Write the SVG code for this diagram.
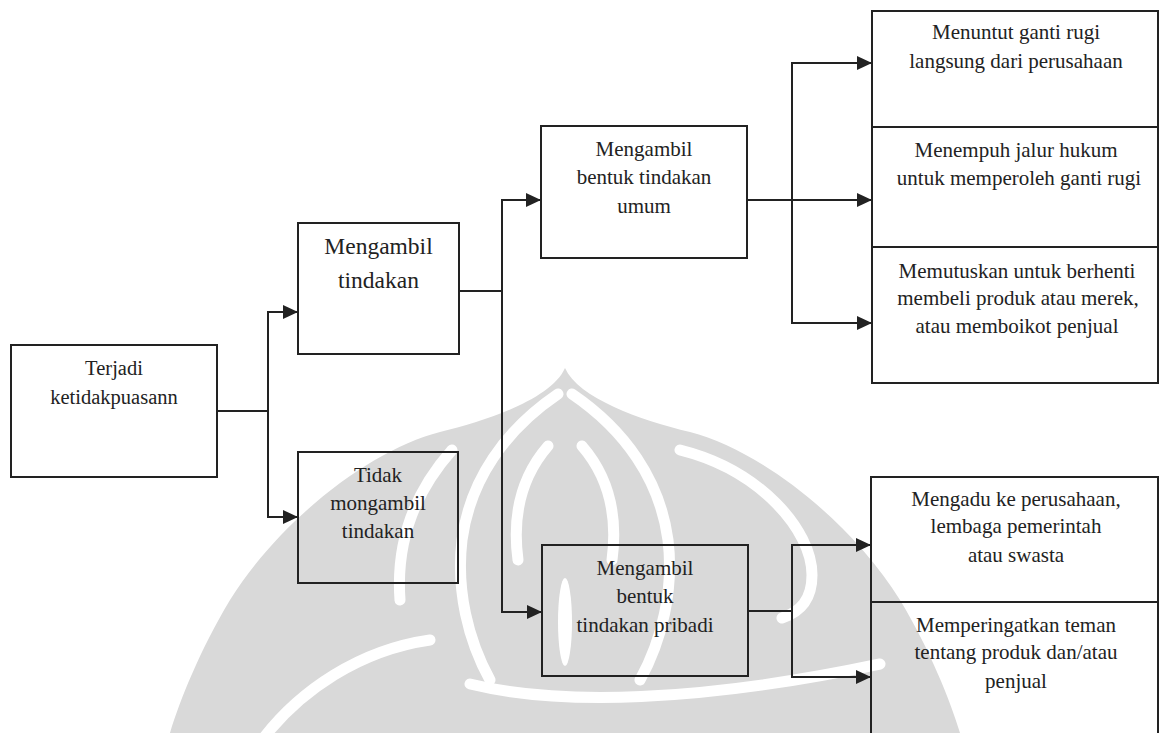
<svg xmlns="http://www.w3.org/2000/svg" width="1160" height="733" viewBox="0 0 1160 733">
  <style>
    .box { fill: none; stroke: #222; stroke-width: 2; }
    .wire { fill: none; stroke: #222; stroke-width: 2; }
    .t { font-family: "Liberation Serif", "Times New Roman", serif; fill: #222; text-anchor: middle; font-size: 21px; }
    .big { font-size: 23.5px; }
    .mid { font-size: 20.5px; }
    .wm { fill: #d9d9d9; }
    .cut { fill: none; stroke: #ffffff; stroke-width: 11; stroke-linecap: round; }
  </style>
  <defs>
    <marker id="arrow" markerUnits="userSpaceOnUse" markerWidth="16" markerHeight="16" refX="15" refY="7" orient="auto">
      <path d="M0,0 L15,7 L0,14 Z" fill="#222"/>
    </marker>
  </defs>

  <rect width="1160" height="733" fill="#ffffff"/>

  <!-- background emblem -->
  <g id="emblem">
    <path class="wm" d="M565,368 C578,398 640,420 690,432 C760,450 850,520 900,600 C930,650 950,700 960,733 L170,733 C180,700 200,650 230,600 C280,520 370,450 440,432 C490,420 552,398 565,368 Z"/>
    <path class="cut" d="M558,394 C505,430 470,480 462,540 C456,590 468,640 490,680"/>
    <path class="cut" d="M572,394 C625,430 660,480 668,540 C674,590 662,640 640,680"/>
    <path class="cut" d="M452,450 C412,495 396,545 400,600"/>
    <path class="cut" d="M680,450 C760,470 812,530 812,575 C812,600 800,612 782,618"/>
    <path class="cut" d="M430,640 C360,650 300,690 262,740"/>
    <path class="cut" d="M470,684 C560,706 700,702 880,664"/>
    <path class="cut" d="M548,446 C522,476 512,515 518,560"/>
    <path class="cut" d="M582,446 C608,476 618,515 612,560"/>
    <ellipse cx="565" cy="622" rx="7" ry="44" fill="#ffffff"/>
  </g>

  <!-- connectors -->
  <g id="connectors">
    <path class="wire" d="M217,411 H268 V312 H298" marker-end="url(#arrow)"/>
    <path class="wire" d="M268,411 V517 H298" marker-end="url(#arrow)"/>
    <path class="wire" d="M459,291 H502 V200 H541" marker-end="url(#arrow)"/>
    <path class="wire" d="M502,291 V612 H542" marker-end="url(#arrow)"/>
    <path class="wire" d="M747,200 H872" marker-end="url(#arrow)"/>
    <path class="wire" d="M792,200 V63 H872" marker-end="url(#arrow)"/>
    <path class="wire" d="M792,200 V323 H872" marker-end="url(#arrow)"/>
    <path class="wire" d="M748,611 H792 V545 H871" marker-end="url(#arrow)"/>
    <path class="wire" d="M792,611 V677 H871" marker-end="url(#arrow)"/>
  </g>

  <g id="n-terjadi">
    <rect class="box" x="11" y="345" width="206" height="132"/>
    <text class="t mid" x="114" y="375">Terjadi</text>
    <text class="t mid" x="114" y="404">ketidakpuasann</text>
  </g>

  <g id="n-mengambil">
    <rect class="box" x="298" y="223" width="161" height="131"/>
    <text class="t big" x="378.5" y="254">Mengambil</text>
    <text class="t big" x="378.5" y="288">tindakan</text>
  </g>

  <g id="n-tidak">
    <rect class="box" x="298" y="452" width="160" height="131"/>
    <text class="t" x="378" y="482">Tidak</text>
    <text class="t" x="378" y="510">mongambil</text>
    <text class="t" x="378" y="538">tindakan</text>
  </g>

  <g id="n-umum">
    <rect class="box" x="541" y="126" width="206" height="132"/>
    <text class="t" x="644" y="156">Mengambil</text>
    <text class="t" x="644" y="184">bentuk tindakan</text>
    <text class="t" x="644" y="213">umum</text>
  </g>

  <g id="n-pribadi">
    <rect class="box" x="542" y="545" width="206" height="131"/>
    <text class="t" x="645" y="575">Mengambil</text>
    <text class="t" x="645" y="603">bentuk</text>
    <text class="t" x="645" y="632">tindakan pribadi</text>
  </g>

  <g id="n-ganti-rugi">
    <rect class="box" x="872" y="11" width="286" height="116"/>
    <text class="t" x="1016" y="39">Menuntut ganti rugi</text>
    <text class="t" x="1016" y="68">langsung dari perusahaan</text>
  </g>

  <g id="n-hukum">
    <rect class="box" x="872" y="127" width="286" height="120"/>
    <text class="t" x="1016" y="157">Menempuh jalur hukum</text>
    <text class="t" x="1019" y="185">untuk memperoleh ganti rugi</text>
  </g>

  <g id="n-boikot">
    <rect class="box" x="872" y="247" width="286" height="136"/>
    <text class="t" x="1017" y="278">Memutuskan untuk berhenti</text>
    <text class="t" x="1018" y="305">membeli produk atau merek,</text>
    <text class="t" x="1017" y="333">atau memboikot penjual</text>
  </g>

  <g id="n-mengadu">
    <rect class="box" x="871" y="477" width="287" height="125"/>
    <text class="t" x="1016" y="506">Mengadu ke perusahaan,</text>
    <text class="t" x="1016" y="533">lembaga pemerintah</text>
    <text class="t" x="1016" y="562">atau swasta</text>
  </g>

  <g id="n-peringatkan">
    <rect class="box" x="871" y="602" width="287" height="140"/>
    <text class="t" x="1016" y="632">Memperingatkan teman</text>
    <text class="t" x="1016" y="659">tentang produk dan/atau</text>
    <text class="t" x="1016" y="688">penjual</text>
  </g>
</svg>
